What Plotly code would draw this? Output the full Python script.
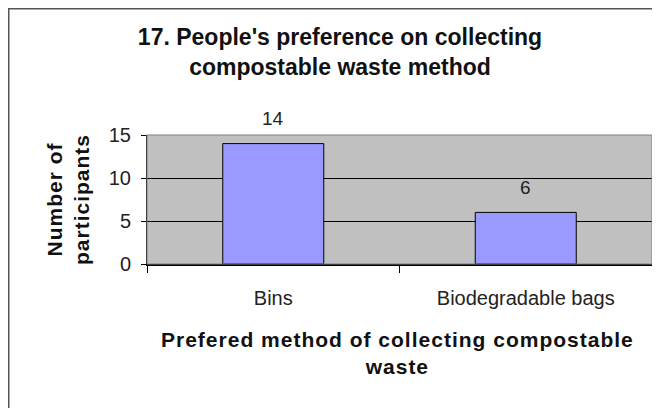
import plotly.graph_objects as go

categories = ["Bins", "Biodegradable bags"]
participants = [14, 6]
y_ticks = [0, 5, 10, 15]

FONT = "Liberation Sans, Arial, sans-serif"
# the page adds an 8px body margin, so the figure is laid out 8px smaller
W, H = 652, 400
L, R, T, B = 139, 8, 127, 144
PW, PH = W - L - R, H - T - B

fig = go.Figure()
fig.add_trace(go.Bar(
    x=categories, y=participants, width=0.4,
    marker=dict(color="#9999FF", line=dict(color="#000000", width=1)),
    hoverinfo="x+y",
))

# value labels above the bars
for cat, val in zip(categories, participants):
    fig.add_annotation(x=cat, y=val, text=str(val), showarrow=False,
                       yanchor="middle", yshift=25,
                       font=dict(family=FONT, size=19, color="#222222"))

# plot area border (top/right) and outer chart frame
fig.add_shape(type="rect", xref="paper", yref="paper", x0=0, x1=1, y0=0, y1=1,
              line=dict(color="#808080", width=1), layer="above")
fig.add_shape(type="rect", xref="paper", yref="paper",
              x0=(0 - L) / PW, x1=(700 - L) / PW, y0=(H - B - 450) / PH, y1=(H - B - 0) / PH,
              line=dict(color="#555555", width=3))

SP = '<span style="letter-spacing:1px">'
fig.add_annotation(text=f"<b>{SP}Prefered method of collecting compostable</span><br>{SP}waste</span></b>",
                   xref="paper", yref="paper", x=(397 - 147) / PW, y=(264 - 353) / PH,
                   xanchor="center", yanchor="middle",
                   showarrow=False, font=dict(family=FONT, size=21, color="#111111"))
fig.add_annotation(text=f"<b>{SP}Number of</span><br>{SP}participants</span></b>", textangle=-90,
                   xref="paper", yref="paper", x=(68 - 147) / PW, y=(264 - 200) / PH,
                   xanchor="center", yanchor="middle",
                   showarrow=False, font=dict(family=FONT, size=21, color="#111111"))

fig.update_layout(
    width=W, height=H,
    margin=dict(l=L, r=R, t=T, b=B),
    paper_bgcolor="#FFFFFF",
    plot_bgcolor="#C0C0C0",
    showlegend=False,
    title=dict(text="<b>17. People's preference on collecting<br>compostable waste method</b>",
               x=332 / W, xanchor="center", y=1 - 37 / H, yanchor="middle",
               font=dict(family=FONT, size=23, color="#111111")),
    xaxis=dict(range=[-0.5, 1.5], tickson="boundaries", ticks="outside", ticklen=7,
               tickcolor="#000000", showline=True, linecolor="#000000", linewidth=2,
               showgrid=False, ticklabelstandoff=15,
               tickfont=dict(family=FONT, size=20, color="#222222")),
    yaxis=dict(range=[0, 15], tickvals=y_ticks, ticks="outside", ticklen=5,
               tickcolor="#000000", showline=True, linecolor="#000000", linewidth=1,
               showgrid=True, gridcolor="#000000", gridwidth=1, zeroline=False,
               ticklabelstandoff=6,
               tickfont=dict(family=FONT, size=20, color="#222222")),
)

fig.write_html("out.html")
